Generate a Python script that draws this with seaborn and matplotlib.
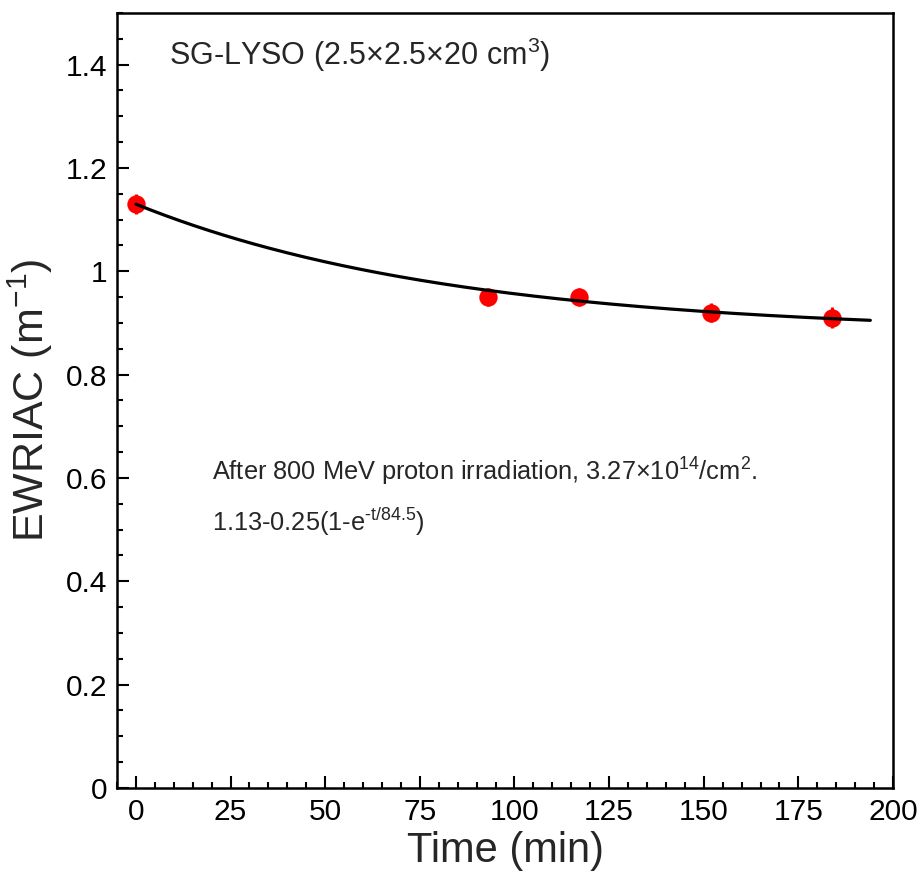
import numpy as np
import pandas as pd
import matplotlib
matplotlib.use("Agg")
import matplotlib.pyplot as plt
from matplotlib.ticker import MultipleLocator, FormatStrFormatter
import seaborn as sns

# data
time_min = [0, 93, 117, 152, 184]
ewriac = [1.13, 0.95, 0.95, 0.92, 0.91]
ewriac_err = [0.02, 0.018, 0.018, 0.018, 0.02]

# fit parameters printed on the chart: a - b(1 - exp(-t/tau))
fit_a = 1.13
fit_b = 0.25
fit_tau = 84.5
fit_t_end = 194

x_ticks = [0, 25, 50, 75, 100, 125, 150, 175, 200]
y_ticks = [0, 0.2, 0.4, 0.6, 0.8, 1.0, 1.2, 1.4]

sns.set_theme(style="white")
plt.rcParams['font.family'] = ['Liberation Sans', 'DejaVu Sans']
plt.rcParams['mathtext.fontset'] = 'custom'
plt.rcParams['mathtext.rm'] = 'Liberation Sans'
plt.rcParams['mathtext.it'] = 'Liberation Sans'

fig = plt.figure(figsize=(9.24, 8.77), dpi=100)
ax = fig.add_axes([0.1266, 0.1015, 0.9665 - 0.1266, 0.9852 - 0.1015])

df = pd.DataFrame({"t": time_min, "y": ewriac})
t_fit = np.linspace(0, fit_t_end, 200)
fit_df = pd.DataFrame({"t": t_fit, "y": fit_a - fit_b * (1 - np.exp(-t_fit / fit_tau))})

ax.errorbar(time_min, ewriac, yerr=ewriac_err, fmt="none", ecolor="red", elinewidth=2.2, zorder=3)
sns.scatterplot(data=df, x="t", y="y", ax=ax, color="red", s=175, edgecolor="red", linewidth=0, zorder=4)
sns.lineplot(data=fit_df, x="t", y="y", ax=ax, color="black", linewidth=2.3, zorder=5)

ax.set_xlim(-5, 200)
ax.set_ylim(0, 1.5)
ax.set_xticks(x_ticks)
ax.set_yticks(y_ticks)
ax.xaxis.set_minor_locator(MultipleLocator(5))
ax.yaxis.set_minor_locator(MultipleLocator(0.05))
ax.yaxis.set_major_formatter(FormatStrFormatter('%g'))
ax.tick_params(which='both', direction='in', top=False, right=False, bottom=True, left=True,
               colors='black', width=1.5)
ax.tick_params(which='major', length=8.5, labelsize=21.5, pad=7)
ax.tick_params(which='minor', length=4.3)
for s in ax.spines.values():
    s.set_color('black')
    s.set_linewidth(1.8)

ax.set_xlabel("Time (min)", fontsize=30, labelpad=4)
ax.set_ylabel("EWRIAC (m$^{-1}$)", fontsize=31, labelpad=8)

ax.text(8.7, 1.40, "SG-LYSO (2.5\u00d72.5\u00d720 cm$^{3}$)", fontsize=22, va='baseline', ha='left')
ax.text(20.1, 0.594, "After 800 MeV proton irradiation, 3.27\u00d710$^{14}$/cm$^{2}$.",
        fontsize=18.3, va='baseline', ha='left')
ax.text(20.1, 0.498, "1.13-0.25(1-e$^{\\mathrm{\u2010}t/84.5}$)", fontsize=18.3, va='baseline', ha='left')

fig.savefig("out.png", dpi=100)
